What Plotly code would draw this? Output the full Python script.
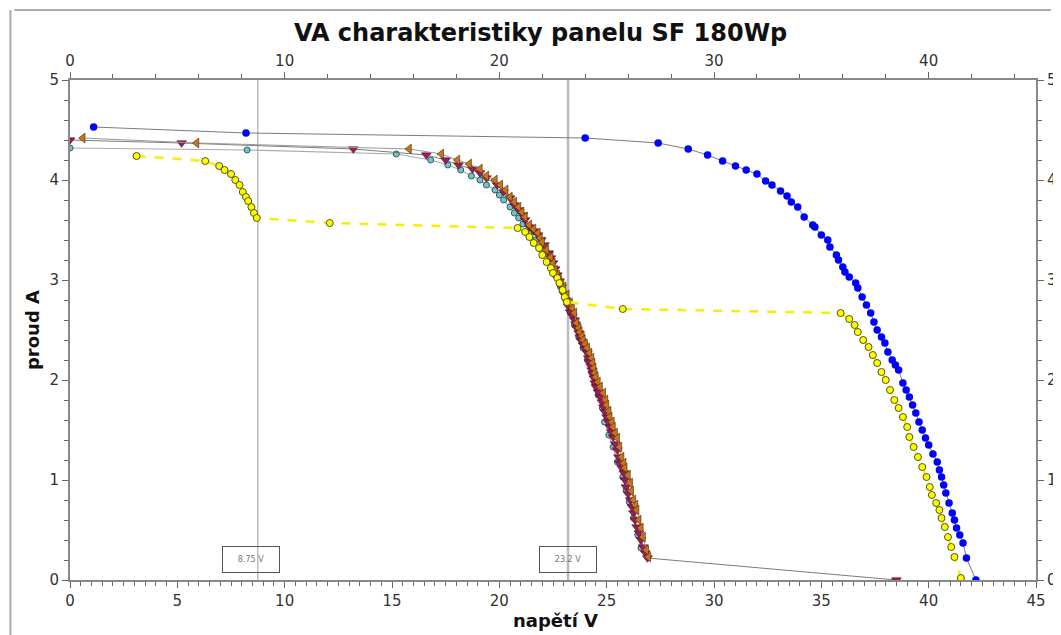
import plotly.graph_objects as go

# ---- data ----
blue_x = [1.1, 8.2, 24.0, 27.4, 28.8, 29.7, 30.4, 31.0, 31.5, 32.0, 32.4, 32.7, 33.1, 33.4, 33.6,
          33.9, 34.2, 34.6, 34.7, 35.0, 35.3, 35.4, 35.7, 35.8, 36.0, 36.1, 36.3, 36.6, 36.7, 36.9,
          37.1, 37.3, 37.45, 37.6, 37.8, 37.96, 38.1, 38.3, 38.45, 38.6, 38.8, 38.95, 39.1, 39.25, 39.4,
          39.55, 39.7, 39.85, 40.0, 40.2, 40.4, 40.5, 40.6, 40.7, 40.8, 40.95, 41.1, 41.2, 41.3, 41.45,
          41.6, 41.76, 42.2]
blue_y = [4.53, 4.47, 4.42, 4.37, 4.31, 4.25, 4.19, 4.14, 4.10, 4.06, 3.99, 3.95, 3.89, 3.84, 3.78,
          3.73, 3.63, 3.55, 3.53, 3.45, 3.40, 3.33, 3.25, 3.20, 3.13, 3.08, 3.03, 2.97, 2.92, 2.83,
          2.75, 2.67, 2.58, 2.50, 2.43, 2.37, 2.28, 2.20, 2.15, 2.10, 1.97, 1.90, 1.83, 1.75, 1.67,
          1.58, 1.50, 1.42, 1.35, 1.26, 1.18, 1.10, 1.03, 0.95, 0.87, 0.77, 0.67, 0.60, 0.52, 0.45,
          0.37, 0.22, 0.0]

yel_x = [3.1, 6.3, 6.95, 7.2, 7.5, 7.7, 7.9, 8.05, 8.2, 8.3, 8.45, 8.57, 8.7, 12.1, 20.85,
         21.2, 21.4, 21.6, 21.85, 22.0, 22.2, 22.4, 22.5, 22.7, 22.8, 22.95, 23.05, 23.15, 25.75, 35.9,
         36.3, 36.55, 36.7, 36.95, 37.2, 37.4, 37.6, 37.8, 38.0, 38.2, 38.4, 38.6, 38.8, 39.0, 39.1,
         39.3, 39.5, 39.7, 39.9, 40.05, 40.15, 40.35, 40.5, 40.6, 40.75, 40.9, 41.05, 41.2, 41.5]
yel_y = [4.24, 4.19, 4.14, 4.10, 4.06, 4.00, 3.95, 3.88, 3.83, 3.79, 3.73, 3.67, 3.62, 3.57, 3.52,
         3.48, 3.43, 3.37, 3.32, 3.25, 3.18, 3.12, 3.07, 3.02, 2.97, 2.90, 2.83, 2.78, 2.71, 2.67,
         2.61, 2.55, 2.48, 2.40, 2.33, 2.25, 2.17, 2.08, 2.00, 1.90, 1.80, 1.72, 1.63, 1.53, 1.43,
         1.33, 1.23, 1.13, 1.03, 0.93, 0.85, 0.77, 0.70, 0.62, 0.53, 0.43, 0.33, 0.23, 0.02]

mar_x = [0.0, 5.2, 13.2, 16.6, 17.5, 18.1, 18.75, 19.1, 19.4, 19.9,
         20.2, 20.5, 20.7, 20.9, 21.1, 21.2, 21.4, 21.6, 21.8, 21.95,
         22.1, 22.3, 22.4, 22.5, 22.6, 22.7, 22.8, 22.9, 23.0, 23.1,
         23.2, 23.3, 23.4, 23.5, 23.55, 23.6, 23.7, 23.75, 23.82, 23.9,
         24.0, 24.1, 24.15, 24.2, 24.25, 24.3, 24.35, 24.4, 24.45, 24.5,
         24.6, 24.7, 24.78, 24.85, 24.92, 25.0, 25.08, 25.15, 25.22, 25.3,
         25.4, 25.5, 25.55, 25.6, 25.7, 25.8, 25.85, 25.9, 26.0, 26.1,
         26.18, 26.25, 26.32, 26.4, 26.5, 26.6, 26.7, 26.8, 26.9, 38.5]
mar_y = [4.40, 4.37, 4.31, 4.25, 4.20, 4.15, 4.11, 4.07, 4.02, 3.95,
         3.88, 3.82, 3.75, 3.70, 3.65, 3.60, 3.53, 3.49, 3.45, 3.40,
         3.35, 3.27, 3.22, 3.17, 3.11, 3.05, 2.99, 2.93, 2.86, 2.80,
         2.74, 2.68, 2.64, 2.60, 2.56, 2.52, 2.47, 2.43, 2.39, 2.35,
         2.31, 2.27, 2.22, 2.18, 2.14, 2.10, 2.06, 2.02, 1.97, 1.93,
         1.88, 1.83, 1.78, 1.73, 1.68, 1.63, 1.58, 1.53, 1.48, 1.43,
         1.36, 1.30, 1.23, 1.17, 1.12, 1.07, 1.00, 0.93, 0.86, 0.80,
         0.73, 0.67, 0.60, 0.53, 0.47, 0.40, 0.33, 0.27, 0.22, 0.0]

org_x = [0.6, 5.9, 15.8, 17.3, 18.05, 18.6, 19.1, 19.4, 19.8, 20.05,
         20.3, 20.5, 20.7, 20.9, 21.05, 21.2, 21.4, 21.6, 21.8, 21.9,
         22.0, 22.2, 22.4, 22.5, 22.6, 22.7, 22.8, 22.9, 23.0, 23.15,
         23.3, 23.4, 23.5, 23.6, 23.7, 23.75, 23.85, 23.9, 24.0, 24.1,
         24.2, 24.3, 24.35, 24.4, 24.45, 24.5, 24.6, 24.7, 24.85, 24.95,
         25.0, 25.1, 25.15, 25.25, 25.3, 25.4, 25.5, 25.6, 25.7, 25.8,
         25.85, 26.0, 26.1, 26.15, 26.25, 26.35, 26.4, 26.5, 26.6, 26.7,
         26.85, 26.95]
org_y = [4.42, 4.37, 4.31, 4.26, 4.20, 4.16, 4.11, 4.04, 4.00, 3.95,
         3.90, 3.83, 3.78, 3.73, 3.68, 3.63, 3.55, 3.51, 3.47, 3.42,
         3.38, 3.30, 3.23, 3.17, 3.10, 3.05, 3.00, 2.96, 2.93, 2.85,
         2.77, 2.72, 2.67, 2.57, 2.52, 2.48, 2.44, 2.40, 2.36, 2.32,
         2.27, 2.22, 2.17, 2.12, 2.07, 2.03, 1.98, 1.93, 1.87, 1.80,
         1.75, 1.69, 1.63, 1.58, 1.53, 1.47, 1.42, 1.33, 1.23, 1.17,
         1.12, 1.05, 0.97, 0.89, 0.80, 0.75, 0.70, 0.60, 0.52, 0.43,
         0.30, 0.23]

cy_x = [0.0, 8.25, 15.2, 16.8, 17.6, 18.2, 18.7, 19.1, 19.4, 19.8, 20.0, 20.2, 20.5, 20.7, 20.9,
        21.1, 21.4, 21.7, 22.0, 22.3, 22.6, 22.85, 23.1, 23.3, 23.5, 23.7, 23.9, 24.1, 24.3, 24.45,
        24.6, 24.8, 24.9, 25.1, 25.3, 25.5, 25.75, 25.9, 26.05, 26.25, 26.45, 26.6]
cy_y = [4.32, 4.30, 4.26, 4.20, 4.15, 4.10, 4.04, 4.00, 3.95, 3.90, 3.85, 3.80, 3.73, 3.67, 3.62,
        3.56, 3.48, 3.40, 3.30, 3.18, 3.05, 2.93, 2.80, 2.68, 2.55, 2.43, 2.32, 2.20, 2.08, 1.97,
        1.85, 1.72, 1.58, 1.45, 1.33, 1.18, 1.03, 0.90, 0.78, 0.62, 0.45, 0.32]

vlines_x = [8.75, 23.2]
vline_labels = ["8.75 V", "23.2 V"]

title_text = "VA charakteristiky panelu SF 180Wp"
x_title = "napětí V"
y_title = "proud A"

# ---- figure ----
FONT = "DejaVu Sans"
fig = go.Figure()

line_gray = dict(color="rgba(110,110,110,0.9)", width=1)

fig.add_trace(go.Scatter(x=cy_x, y=cy_y, mode="lines+markers", line=dict(color="#aaaaaa", width=1.2),
                         marker=dict(symbol="circle", size=6, color="#6ec6cc", line=dict(color="#2f5f62", width=1)),
                         showlegend=False))
fig.add_trace(go.Scatter(x=mar_x, y=mar_y, mode="lines+markers", line=line_gray,
                         marker=dict(symbol="triangle-down", size=8.5, color="#a01a5c", line=dict(color="#3a0a1a", width=0.6)),
                         showlegend=False))
fig.add_trace(go.Scatter(x=org_x, y=org_y, mode="lines+markers", line=dict(color="#999999", width=1),
                         marker=dict(symbol="triangle-left", size=8.5, color="#c8741c", line=dict(color="#4a2a08", width=0.6)),
                         showlegend=False))
fig.add_trace(go.Scatter(x=yel_x, y=yel_y, mode="lines+markers", line=dict(color="#f5f000", width=2.5, dash="dash"),
                         marker=dict(symbol="circle", size=7, color="#ffff00", line=dict(color="#55550a", width=1)),
                         showlegend=False))
fig.add_trace(go.Scatter(x=blue_x, y=blue_y, mode="lines+markers", line=line_gray,
                         marker=dict(symbol="circle", size=7.5, color="#0000ff", line=dict(width=0)),
                         showlegend=False))
# invisible trace to anchor the mirror axes (top / right)
fig.add_trace(go.Scatter(x=[0, 45], y=[0, 5], xaxis="x2", yaxis="y2", mode="markers",
                         marker=dict(opacity=0), hoverinfo="skip", showlegend=False))

for xv, lab in zip(vlines_x, vline_labels):
    fig.add_shape(type="line", x0=xv, x1=xv, y0=0, y1=1, xref="x", yref="paper",
                  line=dict(color="#999999" if xv < 10 else "#bbbbbb", width=1 if xv < 10 else 2.5), layer="below")
    fig.add_annotation(x=xv - (0.3 if xv < 10 else 0), y=0.21, xref="x", yref="y", text=lab, showarrow=False,
                       font=dict(family=FONT, size=8, color="#777777"), bgcolor="rgba(255,255,255,0)",
                       bordercolor="#555555", borderwidth=1, width=54, height=23)

# outer frame lines (top and left)
fig.add_shape(type="line", xref="paper", yref="paper", x0=-0.0576, x1=1.0154, y0=1.14, y1=1.14,
              line=dict(color="#aaaaaa", width=2))
fig.add_shape(type="line", xref="paper", yref="paper", x0=-0.0617, x1=-0.0617, y0=1.14, y1=-0.12,
              line=dict(color="#aaaaaa", width=2))

# x-axis title as annotation (slightly right of centre, as in the reference)
fig.add_annotation(xref="paper", yref="paper", x=0.503, y=-0.08, text=x_title, showarrow=False,
                   font=dict(family=FONT, size=18, color="#111111", weight="bold"), yanchor="middle")

axis_common = dict(showgrid=False, zeroline=False, showline=True, linecolor="#888888", linewidth=2,
                   ticks="outside", tickcolor="#666666", ticklen=6, tickwidth=1,
                   tickfont=dict(family=FONT, size=15, color="#333333"))

fig.update_layout(
    width=1061, height=635,
    margin=dict(l=62, r=27, t=72, b=63),
    paper_bgcolor="white", plot_bgcolor="white",
    title=dict(text=title_text, x=0.502, xanchor="center", y=0.961, yanchor="middle",
               font=dict(family=FONT, size=24, color="#111111", weight="bold")),
    xaxis=dict(range=[0, 45], tickmode="array", tickvals=[0, 5, 10, 15, 20, 25, 30, 35, 40, 45],
               minor=dict(dtick=0.5, ticks="outside", ticklen=4, tickcolor="#666666"),
               **axis_common),
    yaxis=dict(range=[0, 5], tickmode="array", tickvals=[0, 1, 2, 3, 4, 5],
               minor=dict(dtick=0.2, ticks="outside", ticklen=4, tickcolor="#666666"),
               title=dict(text=y_title, font=dict(family=FONT, size=18, color="#111111", weight="bold"), standoff=5),
               **axis_common),
    xaxis2=dict(range=[0, 45], overlaying="x", side="top", tickmode="array", tickvals=[0, 10, 20, 30, 40],
                minor=dict(dtick=2, ticks="outside", ticklen=4, tickcolor="#666666"), anchor="y", **axis_common),
    yaxis2=dict(range=[0, 5], overlaying="y", side="right", tickmode="array", tickvals=[0, 1, 2, 3, 4, 5],
                minor=dict(dtick=0.2, ticks="outside", ticklen=4, tickcolor="#666666"), anchor="x", **axis_common),
)

fig.write_html("out.html")
